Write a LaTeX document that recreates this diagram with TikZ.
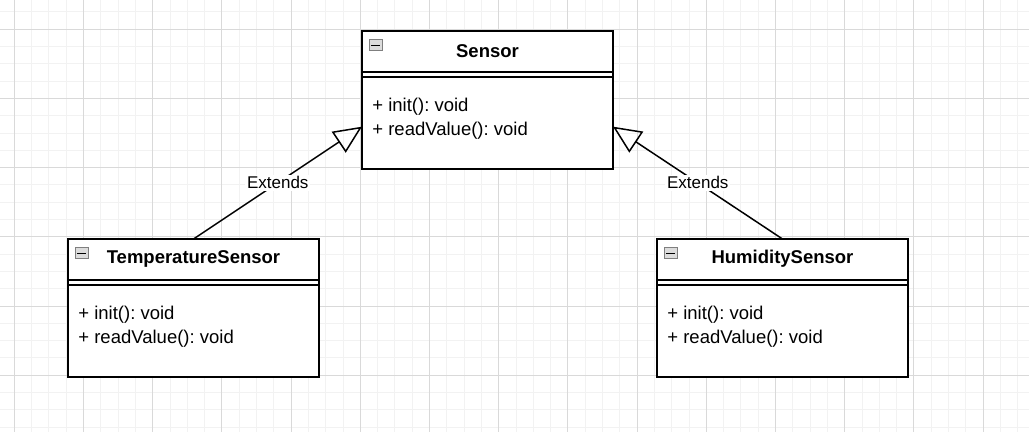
\documentclass[tikz,border=0pt]{standalone}
\usepackage{fontspec}
\setmainfont{Liberation Sans}
\usetikzlibrary{arrows.meta,positioning,calc}
\definecolor{gridminor}{HTML}{F2F2F2}
\definecolor{gridmajor}{HTML}{D9D9D9}
\definecolor{iconfill}{HTML}{DCDCDC}
\definecolor{icondraw}{HTML}{7F7F7F}
\frenchspacing

\begin{document}
\begin{tikzpicture}[
  x=1pt, y=1pt,
  font=\fontsize{9.25}{12}\selectfont,
  cls/.style={draw=black, line width=1pt, fill=white, minimum width=125.5pt, minimum height=69pt, inner sep=0pt, outer sep=0pt},
  clsname/.style={font=\fontsize{9.25}{12}\selectfont\bfseries, inner sep=0pt},
  ops/.style={align=left, anchor=west, inner sep=0pt},
  icon/.style={draw=icondraw, fill=iconfill, line width=0.5pt, minimum width=6.5pt, minimum height=5.5pt, inner sep=0pt},
  ext/.style={-{Triangle[open, length=14pt, width=12.5pt]}, line width=0.75pt},
  lbl/.style={fill=white, font=\fontsize{8.5}{10}\selectfont, inner sep=1pt}
]
\useasboundingbox (0,0) rectangle (514.5,-216);
% background grid
\begin{scope}
  \clip (0,0) rectangle (514.5,-216);
  \draw[gridminor, line width=0.5pt, shift={(7.15,-14.65)}, step=8.65] (-20,-240) grid (530,20);
  \draw[gridmajor, line width=0.5pt, shift={(7.15,-14.65)}, step=34.6] (-40,-250) grid (540,20);
\end{scope}

% classes
\node[cls] (sen) at (243.75,-50) {};
\node[cls, below left=35pt and 21.5pt of sen] (tmp) {};
\node[cls, below right=35pt and 22pt of sen] (hum) {};

\node[clsname] at ($(sen.north)+(0,-10)$) {Sensor};
\node[clsname] at ($(tmp.north)+(0,-10)$) {TemperatureSensor};
\node[clsname] at ($(hum.north)+(0,-10)$) {HumiditySensor};

\foreach \c in {sen,tmp,hum} {
  \draw[line width=1pt] ($(\c.north west)+(0,-20.5)$) -- ($(\c.north east)+(0,-20.5)$);
  \draw[line width=1pt] ($(\c.north west)+(0,-23)$) -- ($(\c.north east)+(0,-23)$);
  \node[icon] (\c-icon) at ($(\c.north west)+(6.75,-7.25)$) {};
  \draw[line width=0.6pt] ($(\c-icon.west)+(1.2,0)$) -- ($(\c-icon.east)+(-1.2,0)$);
  \node[ops] (\c-ops) at ($(\c.north west)+(5,-44)$) {+ init(): void\\+ readValue(): void};
}

% generalisation
\draw[ext] (tmp.north) -- node[lbl] {Extends} (sen.192);
\draw[ext] (hum.north) -- node[lbl] {Extends} (sen.348);
\end{tikzpicture}
\end{document}
